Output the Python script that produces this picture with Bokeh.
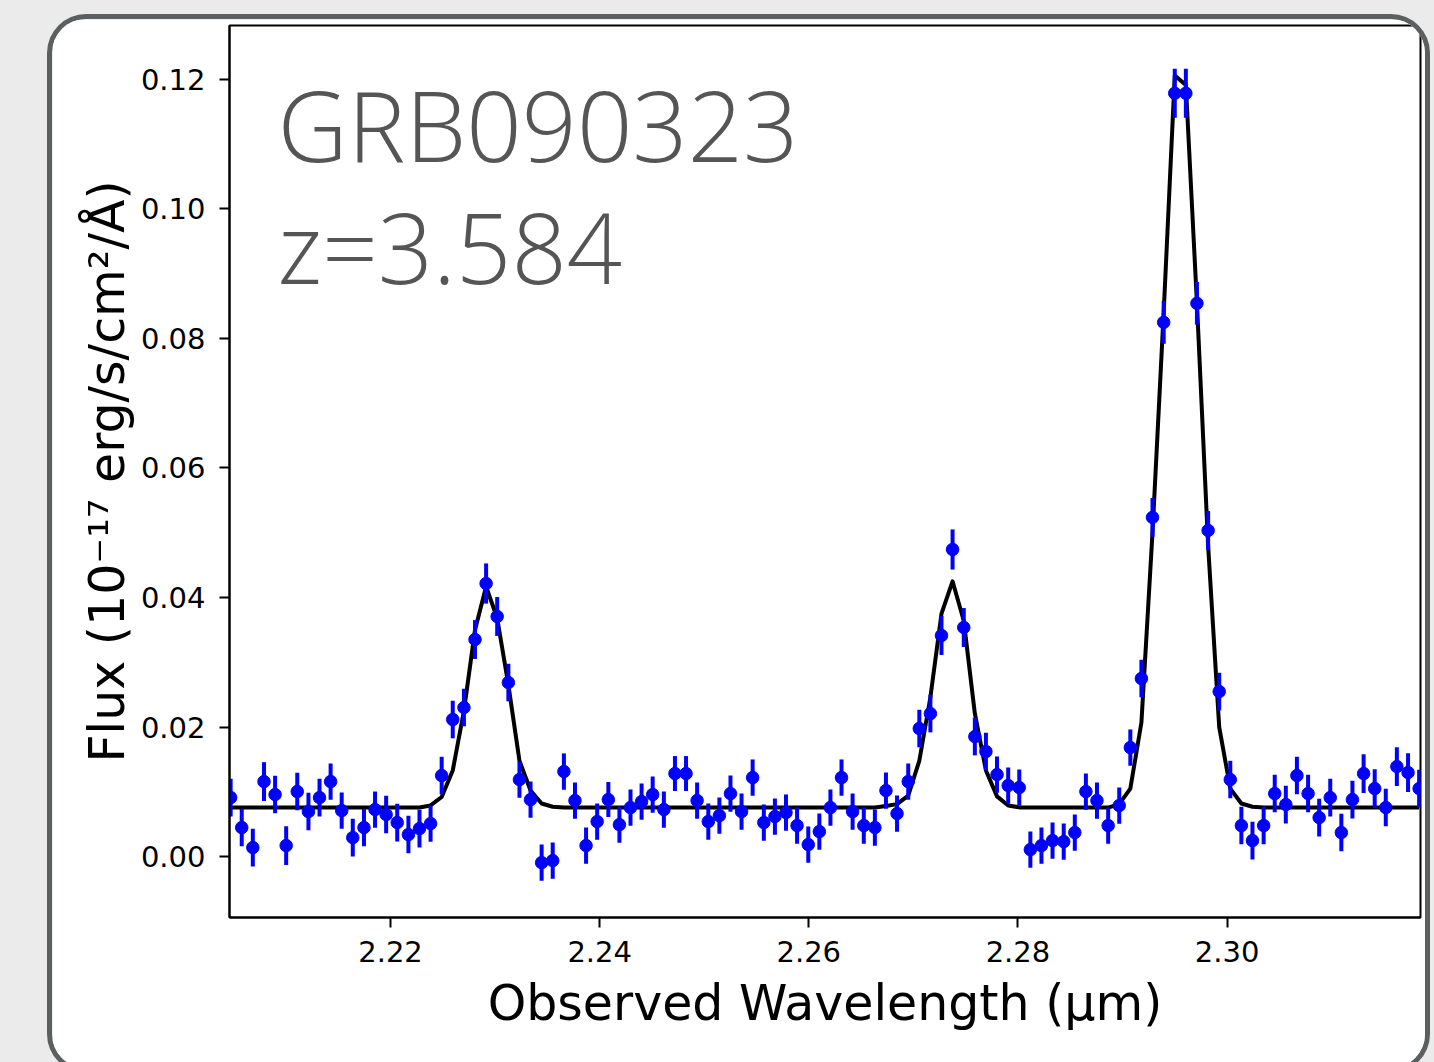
import jinja2
from bokeh.plotting import figure
from bokeh.models import ColumnDataSource, Range1d, FixedTicker, NumeralTickFormatter, Label
from bokeh.embed import file_html
from bokeh.resources import INLINE

# ---------------- data ----------------
wavelength = [
    2.20471, 2.20577, 2.20683, 2.20790, 2.20896, 2.21002, 2.21108, 2.21215, 2.21321, 2.21427,
    2.21533, 2.21639, 2.21746, 2.21852, 2.21958, 2.22064, 2.22171, 2.22277, 2.22383, 2.22489,
    2.22595, 2.22702, 2.22808, 2.22914, 2.23020, 2.23127, 2.23233, 2.23339, 2.23445, 2.23551,
    2.23658, 2.23764, 2.23870, 2.23976, 2.24083, 2.24189, 2.24295, 2.24401, 2.24507, 2.24614,
    2.24720, 2.24826, 2.24932, 2.25039, 2.25145, 2.25251, 2.25357, 2.25463, 2.25570, 2.25676,
    2.25782, 2.25888, 2.25995, 2.26101, 2.26207, 2.26313, 2.26419, 2.26526, 2.26632, 2.26738,
    2.26844, 2.26951, 2.27057, 2.27163, 2.27269, 2.27375, 2.27482, 2.27588, 2.27694, 2.27800,
    2.27907, 2.28013, 2.28119, 2.28225, 2.28331, 2.28438, 2.28544, 2.28650, 2.28756, 2.28863,
    2.28969, 2.29075, 2.29181, 2.29287, 2.29394, 2.29500, 2.29606, 2.29712, 2.29819, 2.29925,
    2.30031, 2.30137, 2.30243, 2.30350, 2.30456, 2.30562, 2.30668, 2.30775, 2.30881, 2.30987,
    2.31093, 2.31199, 2.31306, 2.31412, 2.31518, 2.31624, 2.31731, 2.31837]

flux = [
    0.00911, 0.00448, 0.00139, 0.01158, 0.00958, 0.00170, 0.01004, 0.00695, 0.00911, 0.01158,
    0.00710, 0.00293, 0.00448, 0.00726, 0.00649, 0.00525, 0.00340, 0.00432, 0.00510, 0.01251,
    0.02116, 0.02301, 0.03351, 0.04216, 0.03707, 0.02687, 0.01189, 0.00880, -0.00093, -0.00062,
    0.01313, 0.00865, 0.00170, 0.00541, 0.00880, 0.00494, 0.00757, 0.00849, 0.00958, 0.00726,
    0.01282, 0.01282, 0.00865, 0.00541, 0.00633, 0.00973, 0.00695, 0.01220, 0.00525, 0.00618,
    0.00680, 0.00479, 0.00185, 0.00386, 0.00757, 0.01220, 0.00695, 0.00479, 0.00448, 0.01019,
    0.00664, 0.01158, 0.01977, 0.02208, 0.03413, 0.04741, 0.03537, 0.01853, 0.01622, 0.01266,
    0.01097, 0.01066, 0.00108, 0.00170, 0.00247, 0.00232, 0.00371, 0.01004, 0.00865, 0.00479,
    0.00788, 0.01683, 0.02749, 0.05236, 0.08247, 0.11784, 0.11784, 0.08541, 0.05035, 0.02548,
    0.01189, 0.00479, 0.00247, 0.00479, 0.00973, 0.00803, 0.01251, 0.00973, 0.00602, 0.00911,
    0.00371, 0.00880, 0.01282, 0.01050, 0.00757, 0.01390, 0.01297, 0.01050]

flux_err = [
    0.0029, 0.0029, 0.0029, 0.0030, 0.0029, 0.0030, 0.0029, 0.0029, 0.0029, 0.0028,
    0.0028, 0.0029, 0.0029, 0.0028, 0.0029, 0.0029, 0.0029, 0.0029, 0.0028, 0.0029,
    0.0029, 0.0029, 0.0030, 0.0031, 0.0030, 0.0029, 0.0028, 0.0028, 0.0028, 0.0028,
    0.0028, 0.0028, 0.0028, 0.0028, 0.0027, 0.0028, 0.0028, 0.0028, 0.0028, 0.0028,
    0.0027, 0.0027, 0.0028, 0.0028, 0.0028, 0.0028, 0.0028, 0.0028, 0.0028, 0.0028,
    0.0028, 0.0028, 0.0028, 0.0028, 0.0028, 0.0028, 0.0028, 0.0028, 0.0028, 0.0028,
    0.0028, 0.0028, 0.0029, 0.0029, 0.0030, 0.0031, 0.0030, 0.0029, 0.0029, 0.0028,
    0.0028, 0.0028, 0.0028, 0.0028, 0.0028, 0.0028, 0.0028, 0.0028, 0.0028, 0.0028,
    0.0028, 0.0028, 0.0029, 0.0030, 0.0033, 0.0038, 0.0038, 0.0033, 0.0030, 0.0029,
    0.0029, 0.0029, 0.0029, 0.0029, 0.0029, 0.0029, 0.0029, 0.0029, 0.0029, 0.0029,
    0.0029, 0.0029, 0.0030, 0.0030, 0.0029, 0.0030, 0.0030, 0.0029]

model = [
    0.00757, 0.00757, 0.00757, 0.00757, 0.00757, 0.00757, 0.00757, 0.00757, 0.00757, 0.00757,
    0.00757, 0.00757, 0.00757, 0.00757, 0.00757, 0.00757, 0.00757, 0.00757, 0.00790, 0.00920,
    0.01330, 0.02250, 0.03500, 0.04170, 0.03680, 0.02650, 0.01480, 0.01020, 0.00820, 0.00770,
    0.00757, 0.00757, 0.00757, 0.00757, 0.00757, 0.00757, 0.00757, 0.00757, 0.00757, 0.00757,
    0.00757, 0.00757, 0.00757, 0.00757, 0.00757, 0.00757, 0.00757, 0.00757, 0.00757, 0.00757,
    0.00757, 0.00757, 0.00757, 0.00757, 0.00757, 0.00757, 0.00757, 0.00757, 0.00757, 0.00780,
    0.00810, 0.00940, 0.01480, 0.02460, 0.03750, 0.04250, 0.03640, 0.02210, 0.01330, 0.00930,
    0.00790, 0.00760, 0.00757, 0.00757, 0.00757, 0.00757, 0.00757, 0.00757, 0.00757, 0.00757,
    0.00810, 0.01050, 0.02070, 0.05000, 0.08400, 0.12060, 0.11910, 0.08540, 0.04800, 0.02000,
    0.01050, 0.00820, 0.00770, 0.00757, 0.00757, 0.00757, 0.00757, 0.00757, 0.00757, 0.00757,
    0.00757, 0.00757, 0.00757, 0.00757, 0.00757, 0.00757, 0.00757, 0.00757]

x_ticks = [2.22, 2.24, 2.26, 2.28, 2.30]
y_ticks = [0.00, 0.02, 0.04, 0.06, 0.08, 0.10, 0.12]

title_line1 = "GRB090323"
title_line2 = "z=3.584"
x_label = "Observed Wavelength (\u03bcm)"
y_label = "Flux (10\u207b\u00b9\u2077 erg/s/cm\u00b2/\u00c5)"

# ---------------- sources ----------------
lower = [f - e for f, e in zip(flux, flux_err)]
upper = [f + e for f, e in zip(flux, flux_err)]
src = ColumnDataSource(dict(x=wavelength, y=flux, lo=lower, hi=upper))
msrc = ColumnDataSource(dict(x=wavelength, y=model))

# ---------------- figure ----------------
p = figure(width=1373, height=1049, output_backend="svg", toolbar_location=None,
           x_range=Range1d(2.2046, 2.3185), y_range=Range1d(-0.0094, 0.1283),
           min_border_left=177, min_border_right=5, min_border_top=6, min_border_bottom=151,
           background_fill_color="white", border_fill_color="white")
p.margin = (19, 0, 0, 52)
p.styles = {"border-radius": "34px", "box-shadow": "0 0 0 5px #5b5f5f", "overflow": "hidden"}

p.outline_line_color = "black"
p.outline_line_width = 2
p.xgrid.visible = False
p.ygrid.visible = False

p.line("x", "y", source=msrc, line_color="black", line_width=4, line_join="round")
p.segment(x0="x", y0="lo", x1="x", y1="hi", source=src, line_color="#0000ff", line_width=4)
p.scatter("x", "y", source=src, size=12.5, fill_color="#0000ff", line_color="#0000ff")

p.xaxis.ticker = FixedTicker(ticks=x_ticks)
p.yaxis.ticker = FixedTicker(ticks=y_ticks)
p.xaxis.formatter = NumeralTickFormatter(format="0.00")
p.yaxis.formatter = NumeralTickFormatter(format="0.00")
p.xaxis.axis_label = x_label
p.yaxis.axis_label = y_label

for ax in (p.xaxis[0], p.yaxis[0]):
    ax.axis_line_color = "black"
    ax.axis_line_width = 2
    ax.major_tick_line_color = "black"
    ax.major_tick_line_width = 2
    ax.major_tick_out = 10
    ax.major_tick_in = 0
    ax.minor_tick_line_color = None
    ax.major_label_text_font = "DejaVu Sans"
    ax.major_label_text_font_size = "29px"
    ax.major_label_text_color = "black"
    ax.axis_label_text_font = "DejaVu Sans"
    ax.axis_label_text_font_size = "49px"
    ax.axis_label_text_font_style = "normal"
    ax.axis_label_text_color = "black"

p.xaxis.major_label_standoff = 13
p.yaxis.major_label_standoff = 14
p.xaxis.axis_label_standoff = 10
p.yaxis.axis_label_standoff = 2

for txt, yy in ((title_line1, 0.1131), (title_line2, 0.0943)):
    p.add_layout(Label(x=2.2092, y=yy, text=txt, text_font="Open Sans Light, Roboto Light, Roboto",
                       text_font_size="97px", text_color="#555555",
                       text_baseline="alphabetic", text_align="left"))

template = jinja2.Template(
    "{% extends base %}"
    "{% block preamble %}<style>html, body { background: #ebebeb; overflow: hidden; }</style>{% endblock %}"
)

open("out.html", "w").write(file_html(p, INLINE, template=template))
